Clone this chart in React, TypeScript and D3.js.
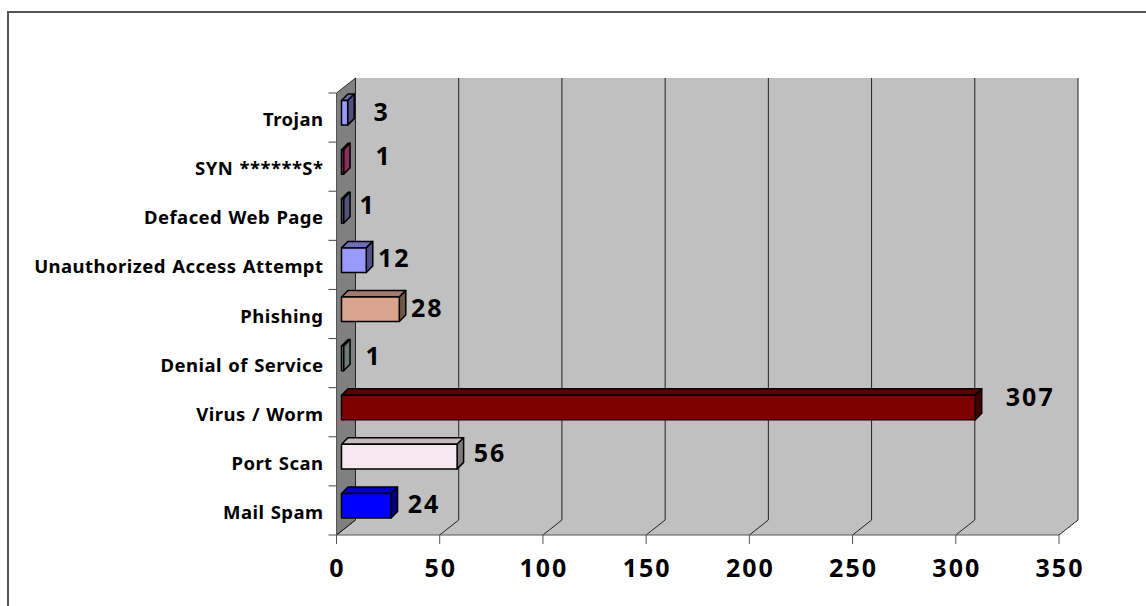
import React from "react";
import * as d3 from "d3";

// Incident counts, listed from the bottom of the chart upward.
const categories = [
  "Mail Spam",
  "Port Scan",
  "Virus / Worm",
  "Denial of Service",
  "Phishing",
  "Unauthorized Access Attempt",
  "Defaced Web Page",
  "SYN ******S*",
  "Trojan",
];
const counts = [24, 56, 307, 1, 28, 12, 1, 1, 3];
const faceColors = ["#0000ff", "#f6e8ef", "#800000", "#90a4a0", "#d8a48e", "#9999ff", "#666699", "#993366", "#9999ff"];
const topShade = [0.75, 0.8, 0.72, 0.8, 0.75, 0.72, 0.8, 0.9, 0.72];
const sideShade = [0.52, 0.52, 0.5, 0.75, 0.52, 0.52, 0.8, 0.9, 0.52];
const xTicks = [0, 50, 100, 150, 200, 250, 300, 350];

// Hand-placed data label anchors: centre offset from the bar end, and baseline offset from the bar bottom.
const labelDx = [32, 32, 54, 29, 27, 27, 23, 39, 33];
const labelDy = [-5, -7, -14, -6, -5, -5, -9, -9, -4];

const numberFont = "'Noto Sans', sans-serif";
const catFont = "'Noto Sans', sans-serif";
const depth = { x: 19, y: 15 };
const barDepth = { x: 6.5, y: 6.5 };
const barShift = 5;

export default function App() {
  const x = d3.scaleLinear().domain([0, 350]).range([336.5, 1059]);
  const y = d3.scaleBand<string>().domain(categories).range([535, 93]);
  const band = y.bandwidth();
  const floorY = y.range()[0];
  const topY = y.range()[1];
  const px = x(0);
  const pts = (a: number[][]) => a.map((p) => p.join(",")).join(" ");

  const shade = (c: string, k: number) => {
    const r = d3.rgb(c);
    return d3.rgb(r.r * k, r.g * k, r.b * k).formatHex();
  };

  return (
    <svg
      width={1146}
      height={606}
      style={{ position: "absolute", left: 0, top: 0, background: "#fff" }}
    >
      {/* Outer frame: top and left edges only */}
      <path d="M8 606 V12 H1146" fill="none" stroke="#555" strokeWidth={2} />

      {/* Back wall and floor */}
      <polygon
        points={pts([
          [px + depth.x, topY - depth.y],
          [x(350) + depth.x, topY - depth.y],
          [x(350) + depth.x, floorY - depth.y],
          [x(350), floorY],
          [px, floorY],
        ])}
        fill="#c0c0c0"
      />
      {/* Side wall */}
      <polygon
        points={pts([
          [px, topY],
          [px + depth.x, topY - depth.y],
          [px + depth.x, floorY - depth.y],
          [px, floorY],
        ])}
        fill="#808080"
        stroke="#333"
        strokeWidth={1}
      />

      {/* Gridlines with floor diagonals and tick marks */}
      {xTicks.map((t) => (
        <g key={t} fill="none">
          <path
            d={`M${x(t) + depth.x} ${topY - depth.y} V${floorY - depth.y} L${x(t)} ${floorY}`}
            stroke="#222"
            strokeWidth={1}
          />
          <line x1={x(t)} x2={x(t)} y1={floorY} y2={floorY + 9} stroke="#555" strokeWidth={1} />
        </g>
      ))}
      <line x1={px - 8} x2={x(350)} y1={floorY} y2={floorY} stroke="#555" strokeWidth={1.2} />
      <line x1={px} x2={px} y1={topY} y2={floorY} stroke="#555" strokeWidth={1} />

      {/* Category ticks */}
      {categories.map((c) => (
        <line key={c} x1={px - 8} x2={px} y1={y(c)!} y2={y(c)!} stroke="#444" strokeWidth={1} />
      ))}

      {/* Bars */}
      {categories.map((c, i) => {
        const x0 = px + barShift;
        const x1 = x(counts[i]) + barShift;
        const y1 = y(c)! + band - 17;
        const y0 = y1 - band * 0.5;
        const edge = { stroke: "#000", strokeWidth: 1.5, strokeLinejoin: "round" as const };
        return (
          <g key={c}>
            <polygon
              points={pts([
                [x0, y0],
                [x0 + barDepth.x, y0 - barDepth.y],
                [x1 + barDepth.x, y0 - barDepth.y],
                [x1, y0],
              ])}
              fill={shade(faceColors[i], topShade[i])}
              {...edge}
            />
            <polygon
              points={pts([
                [x1, y0],
                [x1 + barDepth.x, y0 - barDepth.y],
                [x1 + barDepth.x, y1 - barDepth.y],
                [x1, y1],
              ])}
              fill={shade(faceColors[i], sideShade[i])}
              {...edge}
            />
            <rect x={x0} y={y0} width={x1 - x0} height={y1 - y0} fill={faceColors[i]} {...edge} />
          </g>
        );
      })}

      {/* Category labels */}
      {categories.map((c) => (
        <text
          key={c}
          x={323.5}
          y={y(c)! + band - 16}
          textAnchor="end"
          fontFamily={catFont}
          fontWeight={700}
          fontSize={18.5}
          letterSpacing={0.45}
          wordSpacing={1}
          fill="#000"
        >
          {c}
        </text>
      ))}

      {/* Data labels */}
      {categories.map((c, i) => (
        <text
          key={c}
          x={x(counts[i]) + barShift + labelDx[i] + 1}
          y={y(c)! + band - 17 + labelDy[i]}
          textAnchor="middle"
          fontFamily={numberFont}
          fontWeight={700}
          fontSize={25}
          letterSpacing={2}
          fill="#000"
        >
          {counts[i]}
        </text>
      ))}

      {/* Value axis labels */}
      {xTicks.map((t) => (
        <text
          key={t}
          x={x(t) + 1}
          y={577}
          textAnchor="middle"
          fontFamily={numberFont}
          fontWeight={700}
          fontSize={25}
          letterSpacing={2}
          fill="#000"
        >
          {t}
        </text>
      ))}
    </svg>
  );
}
